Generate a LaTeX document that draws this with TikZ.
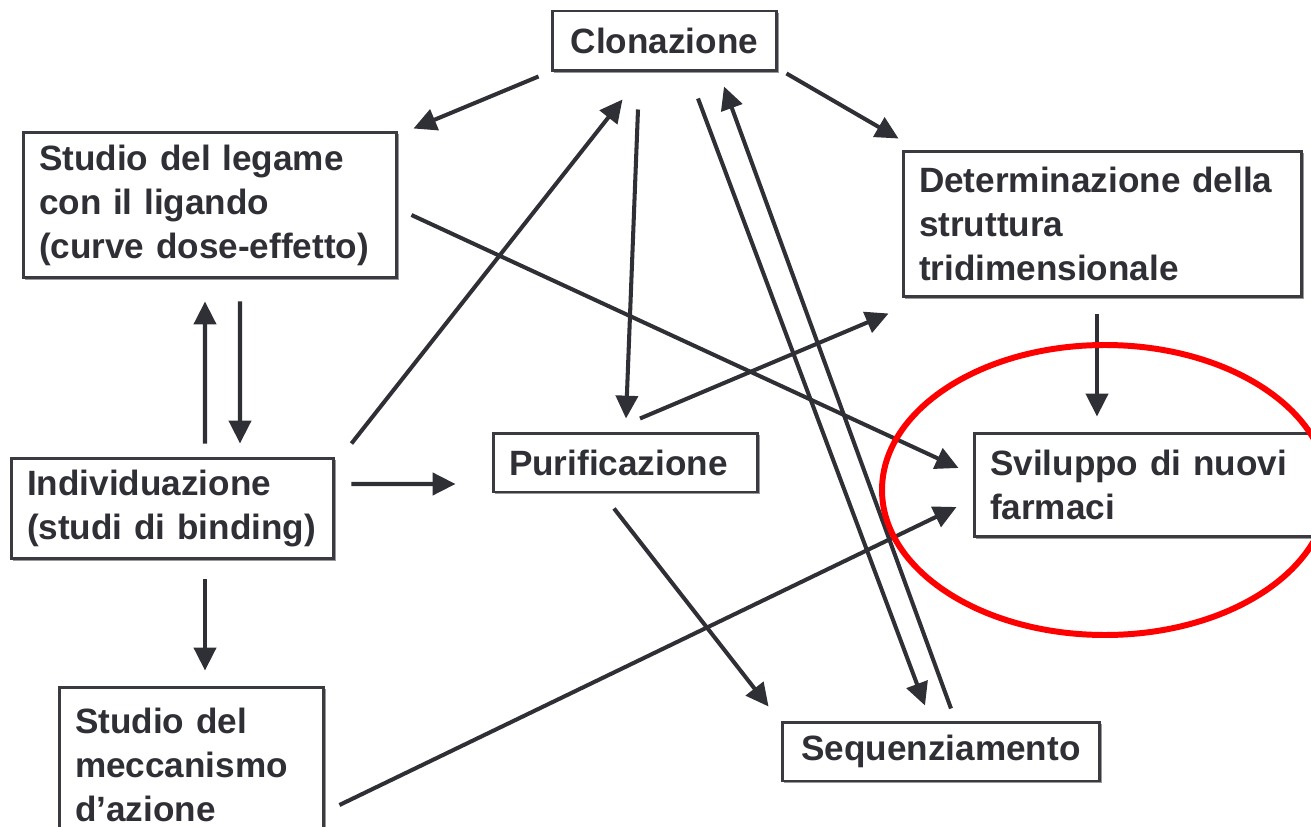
\documentclass[tikz,border=0pt]{standalone}
\usepackage{fontspec}
\setmainfont{Liberation Sans}
\usetikzlibrary{arrows.meta,calc,shadows}
\definecolor{ink}{HTML}{2F2F36}
\definecolor{rim}{HTML}{3A3A40}

\begin{document}
\begin{tikzpicture}[x=0.02cm,y=-0.02cm,
  box/.style={draw=rim,line width=1.7pt,fill=white,text=ink,align=left,
    font=\fontsize{20}{25}\selectfont\bfseries,inner xsep=0.32cm,inner ysep=0pt,
    drop shadow={shadow xshift=1.3pt,shadow yshift=-1.3pt,fill=black!40,opacity=1}},
  link/.style={draw=ink,line width=2.3pt,-{Triangle[length=13pt,width=12.5pt]}}]
\useasboundingbox (0,0) rectangle (1311,827);
\clip (0,0) rectangle (1311,827);
\node[box,text width=3.86cm,minimum height=1.2cm,align=center] (clon) at (664.5,41) {Clonazione};
\node[box,text width=6.84cm,minimum height=2.92cm] (legame) at (210,205) {Studio del legame\\con il ligando\\(curve dose-effetto)};
\node[box,text width=7.34cm,minimum height=2.92cm] (struttura) at (1102.5,224) {Determinazione della\\struttura\\tridimensionale};
\node[box,text width=5.82cm,minimum height=2.02cm] (indiv) at (172.5,508.5) {Individuazione\\(studi di binding)};
\node[box,text width=4.66cm,minimum height=1.18cm] (purif) at (625.5,462.5) {Purificazione};
\node[box,text width=6.48cm,minimum height=2.08cm] (farmaci) at (1152,485) {Sviluppo di nuovi\\farmaci};
\node[box,text width=4.66cm,minimum height=3.12cm] (meccan) at (191.5,765) {Studio del\\meccanismo\\d'azione};
\node[box,text width=5.72cm,minimum height=1.18cm,align=center] (sequenz) at (941,751.5) {Sequenziamento};

\draw[link] ($(clon.south west)+(-12,4)$) -- ($(legame.north east)+(15,-2)$);
\draw[link] ($(clon.south east)+(8,1)$) -- ($(struttura.north west)+(-3,-11)$);
\draw[link] ($(indiv.north east)+(16,-13)$) -- ($(clon.south)+(-42,27)$);
\draw[link] ($(clon.south)+(-26.5,37)$) -- ($(purif.north)+(0.5,-13)$);
\draw[link] ($(clon.south)+(33.5,26)$) -- ($(sequenz.north)+(-16,-15)$);
\draw[link] ($(sequenz.north)+(10,-12)$) -- ($(clon.south)+(59.5,14)$);
\draw[link] ($(legame.east)+(13,10)$) -- ($(farmaci.west)+(-14,-17)$);
\draw[link] ($(purif.north)+(14.5,-13)$) -- ($(struttura.south west)+(-13,15)$);
\draw[link] ($(purif.south)+(-11.5,15)$) -- ($(sequenz.north west)+(-12,-14)$);
\draw[link] ($(indiv.east)+(16,-24.5)$) -- ($(purif.west)+(-36,21.5)$);
\draw[link] ($(indiv.north)+(32.5,-13)$) -- ($(legame.south)+(-5,22)$);
\draw[link] ($(legame.south)+(30,22)$) -- ($(indiv.north)+(67.5,-13)$);
\draw[link] ($(indiv.south)+(32.5,19)$) -- ($(meccan.north)+(13.5,-15)$);
\draw[link] ($(meccan.east)+(14,40)$) -- ($(farmaci.west)+(-16,22)$);
\draw[link] ($(struttura.south)+(-5.5,16)$) -- ($(farmaci.north)+(-55,-15)$);

\draw[red,line width=3.4pt] (1105,490) ellipse [x radius=223,y radius=145];
\end{tikzpicture}
\end{document}
